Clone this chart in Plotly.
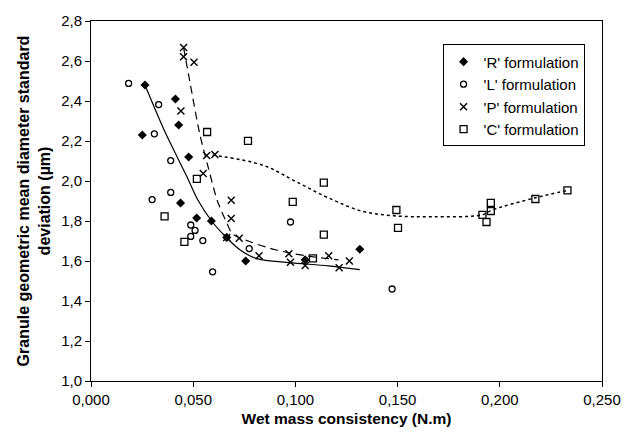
import plotly.graph_objects as go

# ---- data ----
r_x = [0.0264, 0.0251, 0.0413, 0.0429, 0.0478, 0.0438, 0.0517, 0.0589, 0.0664, 0.0757, 0.1048, 0.1315]
r_y = [2.48, 2.23, 2.41, 2.28, 2.12, 1.89, 1.815, 1.80, 1.718, 1.60, 1.606, 1.659]

l_x = [0.0184, 0.0331, 0.0310, 0.0390, 0.0390, 0.0299, 0.0488, 0.0509, 0.0488, 0.0547, 0.0595, 0.0774, 0.0976, 0.1473]
l_y = [2.488, 2.382, 2.236, 2.102, 1.943, 1.907, 1.780, 1.753, 1.723, 1.702, 1.546, 1.662, 1.795, 1.46]

p_x = [0.0453, 0.0453, 0.0504, 0.0440, 0.0566, 0.0606, 0.0549, 0.0686, 0.0686, 0.0664, 0.0725, 0.0822, 0.0968, 0.0976, 0.1048, 0.1163, 0.1214, 0.1264]
p_y = [2.667, 2.621, 2.594, 2.35, 2.127, 2.133, 2.037, 1.904, 1.813, 1.718, 1.714, 1.626, 1.636, 1.594, 1.577, 1.626, 1.566, 1.60]

c_x = [0.0568, 0.0518, 0.0360, 0.0457, 0.0768, 0.1139, 0.0987, 0.1139, 0.1086, 0.1494, 0.1502, 0.1956, 0.1956, 0.1915, 0.1935, 0.2174, 0.2331]
c_y = [2.245, 2.011, 1.823, 1.696, 2.201, 1.992, 1.896, 1.732, 1.613, 1.855, 1.766, 1.891, 1.850, 1.831, 1.795, 1.910, 1.953]

# fitted trend curves
r_fit_x = [0.0264, 0.036, 0.047, 0.052, 0.059, 0.066, 0.073, 0.081, 0.097, 0.116, 0.1315]
r_fit_y = [2.48, 2.25, 2.02, 1.91, 1.80, 1.72, 1.655, 1.612, 1.592, 1.576, 1.557]

p_fit_x = [0.0453, 0.0483, 0.0531, 0.0571, 0.0619, 0.0667, 0.0691, 0.0779, 0.0907, 0.1051, 0.1211]
p_fit_y = [2.667, 2.50, 2.24, 2.078, 1.899, 1.785, 1.737, 1.696, 1.655, 1.626, 1.606]

c_fit_x = [0.0595, 0.0843, 0.1003, 0.1163, 0.1323, 0.1483, 0.1675, 0.1915, 0.1963, 0.217, 0.2331]
c_fit_y = [2.13, 2.078, 1.997, 1.915, 1.85, 1.826, 1.821, 1.831, 1.855, 1.915, 1.953]

x_ticks = [0.0, 0.05, 0.10, 0.15, 0.20, 0.25]
x_tick_text = ["0,000", "0,050", "0,100", "0,150", "0,200", "0,250"]
y_ticks = [1.0, 1.2, 1.4, 1.6, 1.8, 2.0, 2.2, 2.4, 2.6, 2.8]
y_tick_text = ["1,0", "1,2", "1,4", "1,6", "1,8", "2,0", "2,2", "2,4", "2,6", "2,8"]

FONT = "Liberation Sans, Arial, sans-serif"

fig = go.Figure()

# trend lines
fig.add_trace(go.Scatter(x=r_fit_x, y=r_fit_y, mode="lines", line=dict(color="black", width=1.2, shape="spline", smoothing=0.8), showlegend=False, hoverinfo="skip"))
fig.add_trace(go.Scatter(x=p_fit_x, y=p_fit_y, mode="lines", line=dict(color="black", width=1.2, dash="8px,5px", shape="spline", smoothing=0.8), showlegend=False, hoverinfo="skip"))
fig.add_trace(go.Scatter(x=c_fit_x, y=c_fit_y, mode="lines", line=dict(color="black", width=1.5, dash="dot", shape="spline"), showlegend=False, hoverinfo="skip"))

# markers
fig.add_trace(go.Scatter(x=r_x, y=r_y, mode="markers", name="'R' formulation", legendgroup="r",
                         marker=dict(symbol="diamond", size=7, color="black")))
fig.add_trace(go.Scatter(x=l_x, y=l_y, mode="markers", name="'L' formulation", legendgroup="l",
                         marker=dict(symbol="circle-open", size=6, color="black", line=dict(width=1.3))))
fig.add_trace(go.Scatter(x=p_x, y=p_y, mode="markers", name="'P' formulation", legendgroup="p",
                         marker=dict(symbol="x-thin-open", size=7, color="black", line=dict(width=1.4, color="black"))))
fig.add_trace(go.Scatter(x=c_x, y=c_y, mode="markers", name="'C' formulation", legendgroup="c",
                         marker=dict(symbol="square-open", size=7, color="black", line=dict(width=1.3))))

fig.update_layout(
    width=633, height=437,
    margin=dict(l=91, r=21, t=12, b=56),
    paper_bgcolor="white", plot_bgcolor="white",
    font=dict(family=FONT, size=14, color="black"),
    legend=dict(x=0.688, y=0.935, xanchor="left", yanchor="top",
                bordercolor="black", borderwidth=1, bgcolor="white",
                font=dict(size=15, family=FONT), itemwidth=30,
                traceorder="grouped", tracegroupgap=0),
    xaxis=dict(range=[0, 0.25], tickvals=x_ticks, ticktext=x_tick_text,
               showgrid=False, zeroline=False, showline=True, linecolor="black",
               linewidth=1, mirror=True, ticks="outside", ticklen=5, tickcolor="black",
               title=dict(text="<b>Wet mass consistency (N.m)</b>", font=dict(size=15.5), standoff=6),
               tickfont=dict(size=15)),
    yaxis=dict(range=[1.0, 2.8], tickvals=y_ticks, ticktext=y_tick_text,
               showgrid=False, zeroline=False, showline=True, linecolor="black",
               linewidth=1, mirror=True, ticks="outside", ticklen=5, tickcolor="black",
               title=dict(text="<b>Granule geometric mean diameter standard<br>deviation (µm)</b>", font=dict(size=16), standoff=6),
               tickfont=dict(size=15)),
)

fig.write_html("out.html")
